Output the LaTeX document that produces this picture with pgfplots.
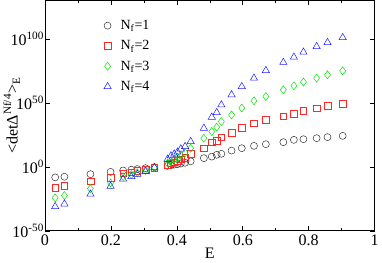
\documentclass[border=0pt]{standalone}
\usepackage{pgfplots}
\usepackage{pgfplotstable}
\pgfplotsset{compat=1.18}
\usepackage{fontspec}
\setmainfont{Liberation Serif}
\definecolor{mygreen}{RGB}{0,230,0}
\definecolor{myred}{RGB}{255,40,40}
\definecolor{myblue}{RGB}{30,30,255}
% columns: E, log10 of <det Delta^{Nf/4}> for Nf=1,2,3,4
\pgfplotstableread{
E     c     s      d      t
0.031 -8.2  -16.2  -24.2  -31.0
0.059 -7.7  -14.8  -22.4  -29.0
0.138 -5.7  -11.3  -17.0  -21.3
0.199 -3.9  -8.4   -12.5  -15.1
0.237 -2.8  -5.0   -7.6   -9.5
0.262 -2.2  -4.2   -6.0   -7.6
0.280 -1.7  -3.2   -4.6   -5.8
0.305 -1.0  -2.1   -2.8   -3.6
0.332 -0.3  -0.5   -0.6   -0.4
0.372 0.8   1.8    3.0    6.0
0.382 1.2   2.8    4.5    8.6
0.392 1.7   3.6    6.0    10.0
0.402 2.1   4.6    7.5    11.5
0.412 2.6   5.8    9.0    14.0
0.425 3.2   7.0    11.0   15.9
0.442 4.3   10.0   14.5   19.8
0.482 6.8   14.6   22.4   30.2
0.506 8.0   19.3   27.6   38.8
0.521 9.4   20.5   31.0   42.4
0.535 10.2  23.2   35.4   48.4
0.566 12.7  26.8   40.6   56.3
0.597 14.6  30.7   45.9   62.7
0.634 16.4  34.1   51.6   69.3
0.670 17.7  36.7   54.9   75.2
0.723 19.3  39.5   60.2   81.6
0.755 21.1  41.4   63.3   85.7
0.784 21.6  44.0   66.2   89.6
0.824 22.4  45.9   69.3   94.0
0.857 23.2  47.7   71.9   97.1
0.903 24.2  49.2   75.0   101.0
}\datatab
\begin{document}
\begin{tikzpicture}
\begin{axis}[
  scale only axis,
  width=329pt, height=230pt,
  xmin=0, xmax=1, ymin=-50, ymax=130,
  xtick={0,0.2,0.4,0.6,0.8,1},
  xticklabels={0,0.2,0.4,0.6,0.8,1},
  minor x tick num=1,
  ytick={-50,0,50,100},
  yticklabels={10\textsuperscript{-50},10\textsuperscript{0},10\textsuperscript{50},10\textsuperscript{100}},
  tick align=inside,
  major tick length=5pt, minor tick length=3pt,
  xtick pos=both, ytick pos=both,
  tick label style={font=\fontsize{16}{18}\selectfont},
  yticklabel style={xshift=2.5pt},
  xlabel={E},
  xlabel style={yshift=4pt, font=\fontsize{16}{18}\selectfont},
  ylabel={<detΔ\textsuperscript{Nf/4}>\textsubscript{E}},
  every axis y label/.style={at={(axis description cs:-0.137,0.5)}, rotate=90, anchor=north, font=\fontsize{16}{18}\selectfont},
  axis line style={line width=0.8pt},
  every tick/.style={black, line width=0.6pt},
  legend image code/.code={\path[draw=none] (-5pt,0pt) -- (11pt,0pt); \draw[#1] plot coordinates {(0pt,0pt)};},
  legend style={draw=none, fill=none, at={(0.165,0.932)}, anchor=north west,
    font=\fontsize{14}{16}\selectfont, row sep=5.5pt},
  legend cell align=left,
]
\addplot[only marks, mark=o, mark size=3.5pt, black!80, line width=0.5pt] table[x=E,y=c]{\datatab};
\addlegendentry{N\textsubscript{f}=1}
\addplot[only marks, mark=square, mark size=3.3pt, myred, line width=0.5pt] table[x=E,y=s]{\datatab};
\addlegendentry{N\textsubscript{f}=2}
\addplot[only marks, mark=diamond, mark size=4pt, mygreen, line width=0.5pt] table[x=E,y=d]{\datatab};
\addlegendentry{N\textsubscript{f}=3}
\addplot[only marks, mark=triangle, mark size=4.2pt, myblue, line width=0.5pt] table[x=E,y=t]{\datatab};
\addlegendentry{N\textsubscript{f}=4}
\end{axis}
\end{tikzpicture}
\end{document}
